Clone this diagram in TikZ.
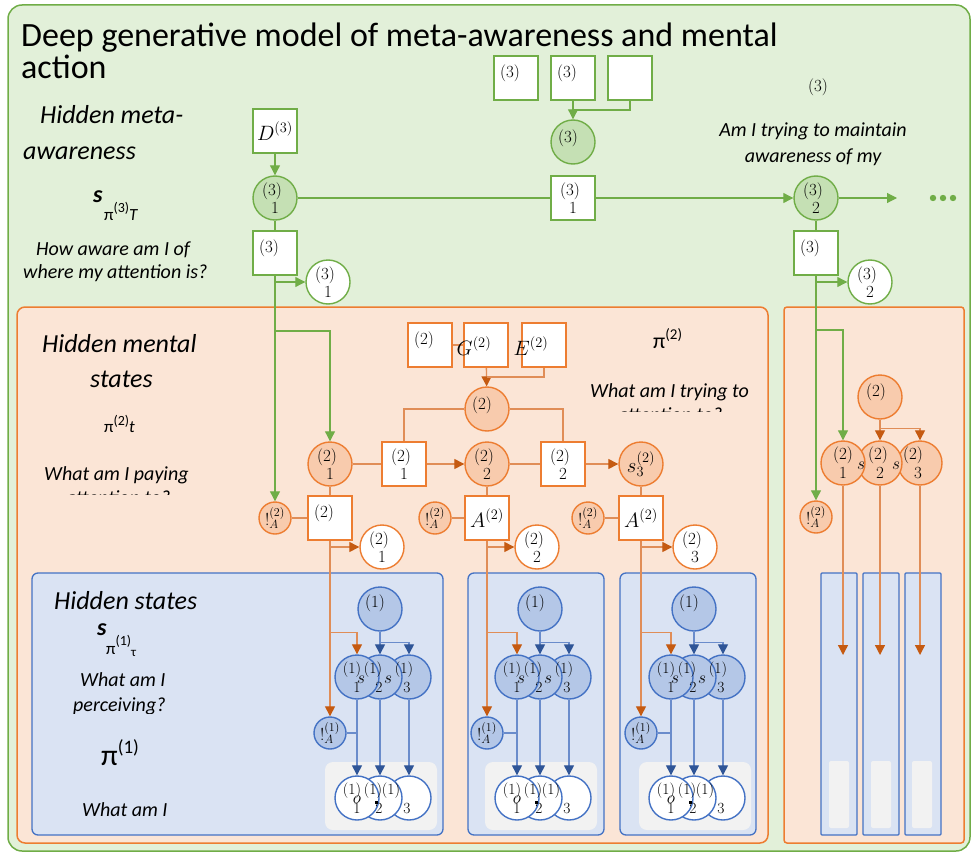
\documentclass[tikz,border=0pt]{standalone}
\usepackage{fontspec}
\newfontfamily\calib{Carlito}
\usetikzlibrary{arrows.meta,calc}
\definecolor{gbg}{HTML}{E2F0D9}
\definecolor{gst}{HTML}{70AD47}
\definecolor{gnd}{HTML}{C5E0B4}
\definecolor{obg}{HTML}{FBE5D6}
\definecolor{ost}{HTML}{ED7D31}
\definecolor{ond}{HTML}{F8CBAD}
\definecolor{oar}{HTML}{C55A11}
\definecolor{oln}{HTML}{E08D57}
\definecolor{bbg}{HTML}{DAE3F3}
\definecolor{bst}{HTML}{4472C4}
\definecolor{bnd}{HTML}{B4C7E7}
\definecolor{bln}{HTML}{6A8CCB}
\definecolor{bar}{HTML}{2F5597}
\definecolor{gry}{HTML}{F2F2F2}
\pgfdeclarelayer{bg}
\pgfdeclarelayer{lines}
\pgfsetlayers{bg,lines,main}
\tikzset{
  circ/.style={circle,minimum size=44pt,inner sep=0pt,line width=1.4pt},
  gc/.style={circ,draw=gst,fill=gnd},
  gw/.style={circ,draw=gst,fill=white},
  sq/.style={rectangle,minimum size=44pt,inner sep=0pt,line width=1.4pt,fill=white},
  gsq/.style={sq,draw=gst},
  osq/.style={sq,draw=ost},
  oc/.style={circ,draw=ost,fill=ond},
  ow/.style={circ,draw=ost,fill=white},
  osm/.style={circle,minimum size=32pt,inner sep=0pt,line width=1.4pt,draw=ost,fill=ond,font=\fontsize{17}{19}\selectfont},
  bc/.style={circ,draw=bst,fill=bnd},
  bw/.style={circ,draw=bst,fill=white},
  bsm/.style={circle,minimum size=32pt,inner sep=0pt,line width=1.4pt,draw=bst,fill=bnd,font=\fontsize{17}{19}\selectfont},
  mt/.style={inner sep=0pt,font=\fontsize{17}{19}\selectfont},
  mtb/.style={inner sep=0pt,font=\fontsize{15.5}{17}\selectfont},
  bigm/.style={inner sep=0pt,font=\fontsize{21}{23}\selectfont},
  ism/.style={inner sep=0pt,font=\fontsize{19}{21}\selectfont},
  gline/.style={draw=gst,line width=1.1pt},
  garr/.style={gline,-{Triangle[length=10pt,width=10pt]}},
  oline/.style={draw=oln,line width=1.3pt},
  oarr/.style={oline,-{Triangle[length=10pt,width=10pt,color=oar]}},
  bline/.style={draw=bln,line width=1.3pt},
  barr/.style={bline,-{Triangle[length=10pt,width=10pt,color=bar]}},
  lab/.style={inner sep=0pt,anchor=base west,font=\calib\itshape\fontsize{20}{24}\selectfont},
  hd/.style={inner sep=0pt,anchor=base west,font=\calib\itshape\fontsize{26}{30}\selectfont},
  sf/.style={inner sep=0pt,anchor=base west,font=\calib\fontsize{17}{20}\selectfont}
}
\newcommand\tw[3]{\node[mt] at ($(#1)+(-3,-7)$) {#2};\node[mt] at ($(#1)+(0,10)$) {#3};}
\newcommand\tl[2]{\node[mt] at ($(#1)+(-6,-5)$) {#2};}
\begin{document}
\begin{tikzpicture}[x=1pt,y=-1pt]
\useasboundingbox (0,0) rectangle (974,856);
\begin{pgfonlayer}{bg}
\draw[gst,fill=gbg,line width=1.5pt,rounded corners=14pt] (8,5) rectangle (970,851);
\draw[ost,fill=obg,line width=1.5pt,rounded corners=8pt] (17,307) rectangle (768,843);
\draw[ost,fill=obg,line width=1.5pt,rounded corners=3pt] (784,307) rectangle (964,843);
\foreach \a/\b in {32/443,468/604,620/756}
  \draw[bst,fill=bbg,line width=1.3pt,rounded corners=6pt] (\a,573) rectangle (\b,835);
\foreach \cx in {380,540,694}
  \fill[gry,rounded corners=8pt] (\cx-55,762) rectangle (\cx+57,830);
\foreach \a in {821,863,905}
  \draw[bst,fill=bbg,line width=1.3pt,rounded corners=1pt] (\a,573) rectangle (\a+36,835);
\foreach \a in {829,871,912}
  \fill[gry,rounded corners=2pt] (\a,761) rectangle (\a+20,828);
\end{pgfonlayer}

% ---------- title and labels ----------
\node[anchor=base west,inner sep=0pt,font=\calib\fontsize{34}{34}\selectfont] at (21,47) {Deep generative model of meta-awareness and mental};
\node[anchor=base west,inner sep=0pt,font=\calib\fontsize{34}{34}\selectfont] at (21,79) {action};

\node[hd] at (40,124) {Hidden meta-};
\node[hd] at (23,160) {awareness};
\node[inner sep=0pt,anchor=base west,font=\calib\bfseries\itshape\fontsize{24}{26}\selectfont] at (93,202) {s};
\node[sf] at (104,220) {π\raisebox{8pt}{\fontsize{14}{16}\selectfont(3)}{\itshape T}};
\node[lab] at (36,255) {How aware am I of};
\begin{scope}
\clip (10,260) rectangle (240,281);
\node[lab] at (23,278) {where my attention is?};
\end{scope}

\node[hd] at (42,352) {Hidden mental};
\node[hd] at (90,387) {states};
\node[sf] at (104,432) {π\raisebox{7pt}{\fontsize{14}{16}\selectfont(2)}{\itshape t}};
\node[lab] at (44,480) {What am I paying};
\begin{scope}
\clip (20,480) rectangle (250,494.5);
\node[lab,anchor=base] at (118,504) {attention to?};
\end{scope}

\node[hd] at (54,609) {Hidden states};
\node[inner sep=0pt,anchor=base west,font=\calib\bfseries\itshape\fontsize{24}{26}\selectfont] at (97,635) {s};
\node[sf] at (106,654) {π\raisebox{9pt}{\fontsize{14}{16}\selectfont(1)}\raisebox{-2pt}{\fontsize{13}{15}\selectfont τ}};
\node[lab] at (80,686) {What am I};
\begin{scope}
\clip (40,690) rectangle (250,713.5);
\node[lab] at (73,711) {perceiving?};
\end{scope}
\node[inner sep=0pt,anchor=base west,font=\calib\fontsize{30}{32}\selectfont] at (101,765) {π\raisebox{12pt}{\fontsize{19}{21}\selectfont(1)}};
\node[lab] at (82,816) {What am I};

\node[mt] at (818,87) {(3)};
\node[lab,anchor=base] at (813,136) {Am I trying to maintain};
\node[lab,anchor=base] at (813,162) {awareness of my};

\node[inner sep=0pt,anchor=base west,font=\calib\fontsize{22}{24}\selectfont] at (653,348) {π\raisebox{9pt}{\fontsize{15}{17}\selectfont(2)}};
\node[lab] at (590,397) {What am I trying to};
\begin{scope}
\clip (560,400) rectangle (760,411);
\node[lab,anchor=base] at (670,421) {attention to?};
\end{scope}

% ---------- level 3 ----------
\node[gsq,font=\fontsize{21}{23}\selectfont] (D3) at (275,131) {$D^{(3)}$};
\node[gc] (s31) at (275,198) {};
\node[gsq] (b31) at (275,253) {};
\node[gw] (o31) at (328,282) {};
\node[gsq] (t1) at (516,78) {};
\node[gsq] (t2) at (573,78) {};
\node[gsq] (t3) at (630,78) {};
\node[gc] (p3) at (573,142) {};
\node[gsq] (B3) at (573,198) {};
\node[gc] (s32) at (816,198) {};
\node[gsq] (b32) at (816,253) {};
\node[gw] (o32) at (870,282) {};
\coordinate (gend) at (897,198);
\coordinate (gb1) at (275,331);
\coordinate (gb2) at (816,330);
\foreach \x in {933,943,953} \fill[gst] (\x,198) circle (3.2pt);

\tw{s31}{(3)}{1}
\tw{o31}{(3)}{1}
\tw{B3}{(3)}{1}
\tw{s32}{(3)}{2}
\tw{o32}{(3)}{2}
\tl{b31}{(3)}
\tl{b32}{(3)}
\tl{t1}{(3)}
\tl{t2}{(3)}
\node[mt] at ($(p3)+(-5,-4)$) {(3)};

% ---------- level 2 ----------
\node[osq] (c1) at (430,345) {};
\node[osq] (G) at (486,345) {};
\node[osq] (E) at (544,345) {};
\node[bigm] at (474,346) {$G^{(2)}$};
\node[bigm] at (531,346) {$E^{(2)}$};
\tl{c1}{(2)}
\node[oc] (p2) at (487,409) {};
\node[mt] at ($(p2)+(-5,-4)$) {(2)};
\node[oc] (s21) at (330,464) {};
\node[osq] (B21) at (404,464) {};
\node[oc] (s22) at (487,464) {};
\node[osq] (B22) at (563,464) {};
\node[oc,font=\fontsize{20}{22}\selectfont] (s23) at (641,464) {$s^{(2)}_3$};
\tw{s21}{(2)}{1}
\tw{B21}{(2)}{1}
\tw{s22}{(2)}{2}
\tw{B22}{(2)}{2}
\node[osq] (A1) at (330,518) {};
\node[osq,font=\fontsize{21}{23}\selectfont] (A2) at (487,518) {$A^{(2)}$};
\node[osq,font=\fontsize{21}{23}\selectfont] (A3) at (641,518) {$A^{(2)}$};
\tl{A1}{(2)}
\node[osm] (a1) at (275,518) {$!^{(2)}_A$};
\node[osm] (a2) at (435,518) {$!^{(2)}_A$};
\node[osm] (a3) at (588,518) {$!^{(2)}_A$};
\node[ow] (o21) at (382,547) {};
\node[ow] (o22) at (537,547) {};
\node[ow] (o23) at (695,547) {};
\tw{o21}{(2)}{1}
\tw{o22}{(2)}{2}
\tw{o23}{(2)}{3}

% right panel
\node[oc] (p2r) at (880,397) {};
\node[mt] at ($(p2r)+(-4,-5)$) {(2)};
\node[oc] (r3) at (920,463) {};
\node[oc] (r2) at (880,463) {};
\node[oc] (r1) at (843,463) {};
\node[mt] at (843,455) {(2)};
\node[mt] at (843,473) {1};
\node[mt] at (878,455) {(2)};
\node[mt] at (880,473) {2};
\node[mt] at (913,455) {(2)};
\node[mt] at (918,473) {3};
\node[ism] at (861,466) {$s$};
\node[ism] at (896,466) {$s$};
\node[osm] (ar) at (816,517) {$!^{(2)}_A$};
\coordinate (re1) at (843,655);
\coordinate (re2) at (880,655);
\coordinate (re3) at (920,655);

% ---------- level 1 ----------
\foreach \cx/\ax/\i in {380/330/1,540/487/2,694/641/3}{
  \node[bc] (bp\i) at (\cx,609) {};
  \node[mt] at (\cx-5,603) {(1)};
  \node[bc] (bs3\i) at (\cx+29,677) {};
  \node[bc] (bs2\i) at (\cx,677) {};
  \node[bc] (bs1\i) at (\cx-23,677) {};
  \node[bsm] (ba\i) at (\ax,733) {$!^{(1)}_A$};
  \node[bw] (bo3\i) at (\cx+29,798) {};
  \node[bw] (bo2\i) at (\cx,798) {};
  \node[bw] (bo1\i) at (\cx-23,798) {};
  \node[mtb] at (\cx-28,670) {(1)};
  \node[mtb] at (\cx-7,670) {(1)};
  \node[mtb] at (\cx+24,670) {(1)};
  \node[mtb] at (\cx-23,687) {1};
  \node[mtb] at (\cx-1,687) {2};
  \node[mtb] at (\cx+27,687) {3};
  \node[ism] at (\cx-19,680) {$s$};
  \node[ism] at (\cx+8,680) {$s$};
  \node[mtb] at (\cx-28,791) {(1)};
  \node[mtb] at (\cx-7,791) {(1)};
  \node[mtb] at (\cx+11,791) {(1)};
  \node[mtb] at (\cx-23,808) {1};
  \node[mtb] at (\cx-1,808) {2};
  \node[mtb] at (\cx+27,808) {3};
  \node[ism] at (\cx-23,800) {$o$};
  \fill (\cx-5.5,800.5) rectangle (\cx-2.5,803.5);
}

% ---------- connectors ----------
\begin{pgfonlayer}{lines}
\draw[garr] (D3) -- (s31);
\draw[gline] (s31) -- (b31);
\draw[gline] (s31) -- (B3);
\draw[garr] (B3) -- (s32);
\draw[garr] (s32) -- (gend);
\draw[garr] (b31.south) -- (a1.north);
\draw[garr] (b31.south |- o31.west) -- (o31.west);
\draw[garr] (gb1) -| (s21.north);
\draw[gline] (s32) -- (b32);
\draw[garr] (b32.south) -- (ar.north);
\draw[garr] (b32.south |- o32.west) -- (o32.west);
\draw[garr] (gb2) -| (r1.north);
\draw[garr] (t2) -- (p3);
\draw[gline] (t3.south) |- ($(t2.south)!.5!(p3.north)$);

\draw[oarr] (G) -- (p2);
\draw[oline] (E.south) |- ($(G.south)!.5!(p2.north)$);
\draw[oline] (c1) -- (G);
\draw[oline] (p2.west) -| (B21.north);
\draw[oline] (p2.east) -| (B22.north);
\draw[oline] (s21) -- (B21);
\draw[oarr] (B21) -- (s22);
\draw[oline] (s22) -- (B22);
\draw[oarr] (B22) -- (s23);
\draw[oline] (s21) -- (A1);
\draw[oline] (s22) -- (A2);
\draw[oline] (s23) -- (A3);
\draw[oline] (a1) -- (A1);
\draw[oline] (a2) -- (A2);
\draw[oline] (a3) -- (A3);
\draw[oarr] (p2r) -- (r2);
\draw[oarr] (p2r.south) |- ($(r3.north)+(0,-12)$) -- (r3.north);
\draw[oarr] (r1.south) -- (re1);
\draw[oarr] (r2.south) -- (re2);
\draw[oarr] (r3.south) -- (re3);

\foreach \i in {1,2,3}{
  \draw[oarr] (A\i.south) -- (ba\i.north);
  \draw[oarr] (A\i.south) |- ($(bs1\i.north)+(0,-22)$) -- (bs1\i.north);
  \draw[oarr] (A\i.south |- o2\i.west) -- (o2\i.west);
  \draw[barr] (bp\i.south) -- (bs2\i.north);
  \draw[barr] (bp\i.south) |- ($(bs3\i.north)+(0,-12)$) -- (bs3\i.north);
  \draw[barr] (bs1\i.south) -- (bo1\i.north);
  \draw[barr] (bs2\i.south) -- (bo2\i.north);
  \draw[barr] (bs3\i.south) -- (bo3\i.north);
  \draw[bline] (ba\i.east) -- (ba\i.east -| bs1\i.south);
}
\end{pgfonlayer}
\end{tikzpicture}
\end{document}
